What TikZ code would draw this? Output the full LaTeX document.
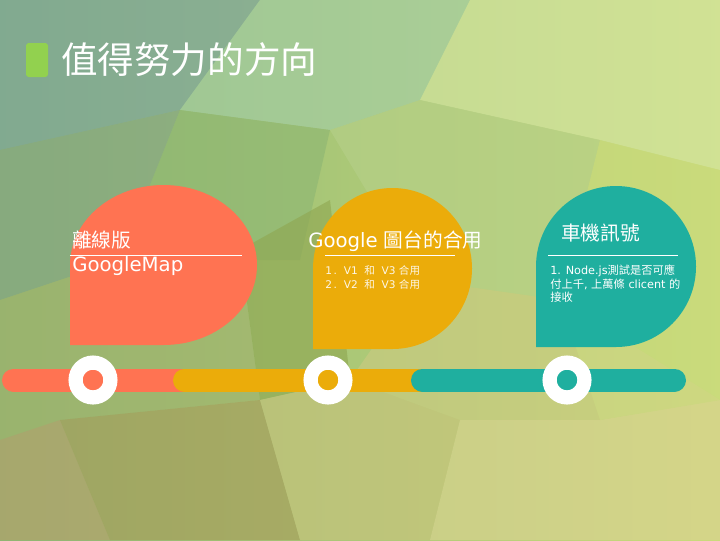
\documentclass[tikz,border=0pt]{standalone}
\usepackage{fontspec}
\setmainfont{DejaVu Sans}
\newfontfamily\cjk{Noto Sans CJK TC}
\usetikzlibrary{
  positioning,  % Function "of"
}
\definecolor{myorange}{HTML}{FF7352}
\definecolor{myyellow}{HTML}{EBAC0A}
\definecolor{myteal}{HTML}{1FAF9F}
\definecolor{mygreen}{HTML}{92D14F}
% facets of the background
\definecolor{bgblue}{HTML}{7AA2A4}
\definecolor{bgmint}{HTML}{A3CEAA}
\definecolor{bgpale}{HTML}{D6E7A6}
\definecolor{bgdark}{HTML}{83A386}
\definecolor{bggreen}{HTML}{8DB673}
\definecolor{bglime}{HTML}{B6D08A}
\definecolor{bgright}{HTML}{CADB7B}
\definecolor{bgolive}{HTML}{8FA650}
\definecolor{bgmoss}{HTML}{A2B26C}
\definecolor{bgbrown}{HTML}{B89E6A}
\definecolor{bgumber}{HTML}{A89A58}
\definecolor{bgsand}{HTML}{C9C27C}
\definecolor{bgstraw}{HTML}{CCCA82}
\definecolor{bgbeige}{HTML}{DCD292}
\definecolor{bgcream}{HTML}{D1D684}
\def\mybarwidth{0.575cm}
\def\myringline{0.355cm}
\def\myringsize{0.87cm}
\tikzset{
  px/.style={
    x=0.025cm,
    y=-0.025cm
  },
  facet/.style={
    fill opacity=0.6
  },
  my bar/.style={
    line width=\mybarwidth,
    line cap=round
  },
  my ring/.style={
    circle,
    draw=white,
    line width=\myringline,
    minimum size=\myringsize,
    inner sep=0pt
  },
  my rule/.style={
    white,
    line width=0.6pt
  },
  my head/.style={
    text=white,
    inner sep=0pt,
    font=\fontsize{14}{16}\selectfont
  },
  my note/.style={
    text=white,
    inner sep=0pt,
    align=left
  }
}

\begin{document}
\begin{tikzpicture}[px]
\useasboundingbox (0,0) rectangle (720,540);
% background
\fill[left color=bggreen,middle color=bglime,right color=bgright]
  (0,0) rectangle (720,540);
\fill[bgblue,facet]   (0,0) -- (260,0) -- (180,110) -- (0,150) -- cycle;
\fill[bgmint,facet]   (180,110) -- (260,0) -- (470,0) -- (420,100) -- (330,130) -- cycle;
\fill[bgpale,facet]   (470,0) -- (720,0) -- (720,170) -- (600,140) -- (420,100) -- cycle;
\fill[bgdark,facet]   (0,150) -- (180,110) -- (120,260) -- (0,300) -- cycle;
\fill[bggreen,facet]  (180,110) -- (330,130) -- (300,260) -- (120,260) -- cycle;
\fill[bglime,facet]   (330,130) -- (420,100) -- (600,140) -- (560,300) -- (420,280) -- cycle;
\fill[bgright,facet]  (600,140) -- (720,170) -- (720,400) -- (560,300) -- cycle;
\fill[bgmoss,facet]   (0,300) -- (120,260) -- (240,250) -- (260,400) -- (60,420) -- (0,440) -- cycle;
\fill[bgolive,facet]  (240,250) -- (330,200) -- (350,380) -- (260,400) -- cycle;
\fill[bgbrown,facet]  (0,440) -- (60,420) -- (110,540) -- (0,540) -- cycle;
\fill[bgumber,facet]  (60,420) -- (260,400) -- (300,540) -- (110,540) -- cycle;
\fill[bgsand,facet]   (260,400) -- (350,380) -- (460,420) -- (430,540) -- (300,540) -- cycle;
\fill[bgstraw,facet]  (350,380) -- (420,280) -- (560,300) -- (600,420) -- (460,420) -- cycle;
\fill[bgbeige,facet]  (460,420) -- (600,420) -- (720,400) -- (720,540) -- (430,540) -- cycle;
\fill[bgcream,facet]  (560,300) -- (720,400) -- (600,420) -- cycle;
% title
\fill[mygreen,rounded corners=2pt] (26,43) rectangle (48,77);
\node[text=white,inner sep=0pt,anchor=base west,font=\cjk\fontsize{26}{30}\selectfont]
  (title) at (61,73) {值得努力的方向};
% bubbles
\fill[myorange] (70,345) -- (70,265)
  arc[start angle=180,end angle=450,x radius=93.5,y radius=80] -- cycle;
\fill[myyellow] (313,349) -- (313,268.5)
  arc[start angle=180,end angle=450,x radius=79.5,y radius=80.5] -- cycle;
\fill[myteal] (536,347) -- (536,266.5)
  arc[start angle=180,end angle=450,x radius=80,y radius=80.5] -- cycle;
% timeline
\coordinate (b1) at (13.5,380);
\coordinate (b2) at (184.5,380);
\coordinate (b3) at (422.5,380);
\coordinate (b4) at (674.5,380);
\draw[my bar,myorange] (b1) -- (200,380);
\draw[my bar,myyellow] (b2) -- (440,380);
\draw[my bar,myteal]   (b3) -- (b4);
\node[my ring,fill=myorange] (r1) at (93,380)  {};
\node[my ring,fill=myyellow] (r2) at (328,380) {};
\node[my ring,fill=myteal]   (r3) at (567,380) {};
% texts
\node[my head,anchor=base west] (h1) at (72,247) {\cjk 離線版};
\draw[my rule] (70,255) -- (242,255);
\node[my head,anchor=base west] (g1) at (72,271) {GoogleMap};
\node[my head,anchor=base west] (h2) at (308,247) {Google {\cjk 圖台的合用}};
\draw[my rule] (325,255) -- (455,255);
\node[my note,anchor=north west,text opacity=0.9,font=\fontsize{7.5}{10}\selectfont]
  (n2) at (325,265) {1\,.\ \ V1 \ {\cjk 和} \ V3 {\cjk 合用}\\2\,.\ \ V2 \ {\cjk 和} \ V3 {\cjk 合用}};
\node[my head,anchor=base west] (h3) at (561,240) {\cjk 車機訊號};
\draw[my rule] (548,255) -- (678,255);
\node[my note,anchor=north west,font=\fontsize{8}{9.6}\selectfont]
  (n3) at (550,265) {1. Node.js{\cjk 測試是否可應}\\{\cjk 付上千}, {\cjk 上萬條} clicent {\cjk 的}\\{\cjk 接收}};
\end{tikzpicture}
\end{document}
